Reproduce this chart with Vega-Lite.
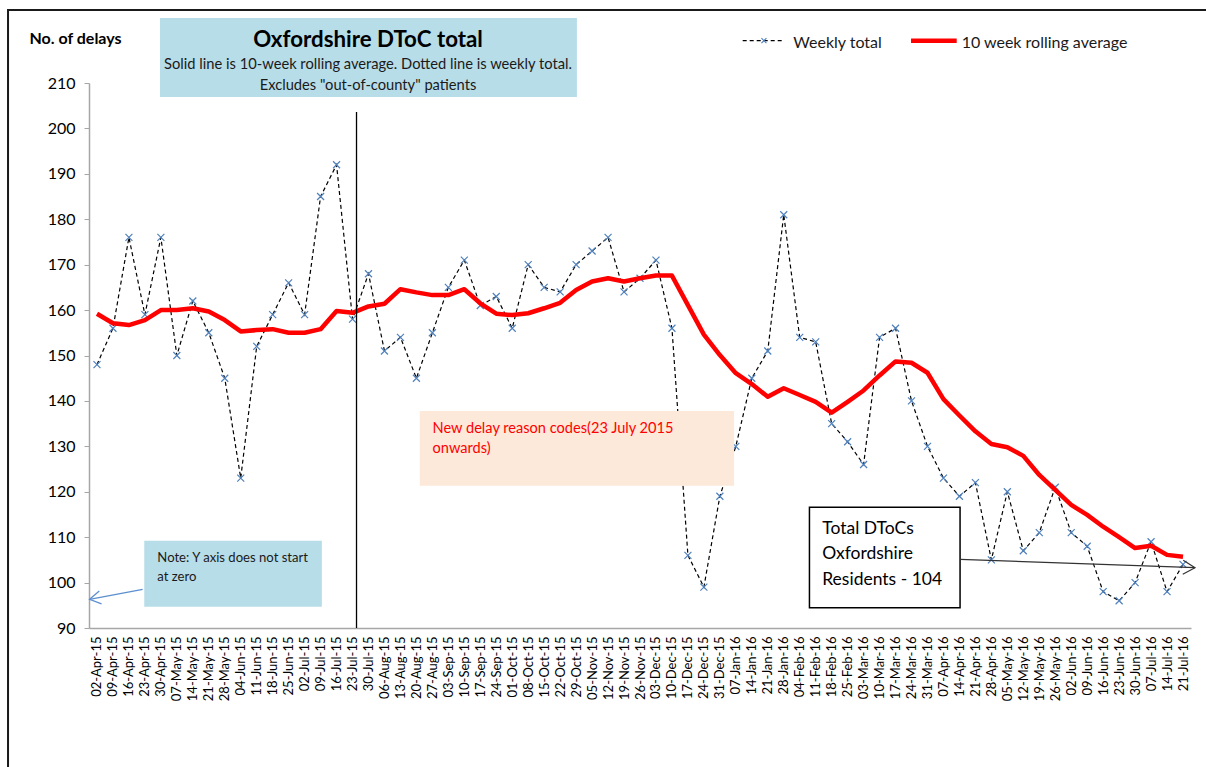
{
  "$schema": "https://vega.github.io/schema/vega-lite/v6.json",
  "width": 1102,
  "height": 545,
  "autosize": {"type": "none"},
  "padding": {"left": 89, "top": 83, "right": 15, "bottom": 139},
  "background": "white",
  "config": {"view": {"stroke": null}, "font": "Lato"},
  "layer": [
    {
      "data": {"values": [
        {"week": "02-Apr-15", "weekly_total": 148, "rolling_average": 159.2},
        {"week": "09-Apr-15", "weekly_total": 156, "rolling_average": 157.1},
        {"week": "16-Apr-15", "weekly_total": 176, "rolling_average": 156.7},
        {"week": "23-Apr-15", "weekly_total": 159, "rolling_average": 157.8},
        {"week": "30-Apr-15", "weekly_total": 176, "rolling_average": 160.0},
        {"week": "07-May-15", "weekly_total": 150, "rolling_average": 160.0},
        {"week": "14-May-15", "weekly_total": 162, "rolling_average": 160.4},
        {"week": "21-May-15", "weekly_total": 155, "rolling_average": 159.7},
        {"week": "28-May-15", "weekly_total": 145, "rolling_average": 157.8},
        {"week": "04-Jun-15", "weekly_total": 123, "rolling_average": 155.3},
        {"week": "11-Jun-15", "weekly_total": 152, "rolling_average": 155.6},
        {"week": "18-Jun-15", "weekly_total": 159, "rolling_average": 155.8},
        {"week": "25-Jun-15", "weekly_total": 166, "rolling_average": 155.0},
        {"week": "02-Jul-15", "weekly_total": 159, "rolling_average": 155.0},
        {"week": "09-Jul-15", "weekly_total": 185, "rolling_average": 155.8},
        {"week": "16-Jul-15", "weekly_total": 192, "rolling_average": 159.8},
        {"week": "23-Jul-15", "weekly_total": 158, "rolling_average": 159.4},
        {"week": "30-Jul-15", "weekly_total": 168, "rolling_average": 160.8},
        {"week": "06-Aug-15", "weekly_total": 151, "rolling_average": 161.4},
        {"week": "13-Aug-15", "weekly_total": 154, "rolling_average": 164.6},
        {"week": "20-Aug-15", "weekly_total": 145, "rolling_average": 163.9},
        {"week": "27-Aug-15", "weekly_total": 155, "rolling_average": 163.3},
        {"week": "03-Sep-15", "weekly_total": 165, "rolling_average": 163.3},
        {"week": "10-Sep-15", "weekly_total": 171, "rolling_average": 164.6},
        {"week": "17-Sep-15", "weekly_total": 161, "rolling_average": 161.5},
        {"week": "24-Sep-15", "weekly_total": 163, "rolling_average": 159.2},
        {"week": "01-Oct-15", "weekly_total": 156, "rolling_average": 158.9},
        {"week": "08-Oct-15", "weekly_total": 170, "rolling_average": 159.3},
        {"week": "15-Oct-15", "weekly_total": 165, "rolling_average": 160.4},
        {"week": "22-Oct-15", "weekly_total": 164, "rolling_average": 161.6},
        {"week": "29-Oct-15", "weekly_total": 170, "rolling_average": 164.4},
        {"week": "05-Nov-15", "weekly_total": 173, "rolling_average": 166.3},
        {"week": "12-Nov-15", "weekly_total": 176, "rolling_average": 167.0},
        {"week": "19-Nov-15", "weekly_total": 164, "rolling_average": 166.3},
        {"week": "26-Nov-15", "weekly_total": 167, "rolling_average": 167.0},
        {"week": "03-Dec-15", "weekly_total": 171, "rolling_average": 167.6},
        {"week": "10-Dec-15", "weekly_total": 156, "rolling_average": 167.6},
        {"week": "17-Dec-15", "weekly_total": 106, "rolling_average": 161.1},
        {"week": "24-Dec-15", "weekly_total": 99, "rolling_average": 154.6},
        {"week": "31-Dec-15", "weekly_total": 119, "rolling_average": 150.1},
        {"week": "07-Jan-16", "weekly_total": 130, "rolling_average": 146.1},
        {"week": "14-Jan-16", "weekly_total": 145, "rolling_average": 143.7},
        {"week": "21-Jan-16", "weekly_total": 151, "rolling_average": 140.9},
        {"week": "28-Jan-16", "weekly_total": 181, "rolling_average": 142.8},
        {"week": "04-Feb-16", "weekly_total": 154, "rolling_average": 141.3},
        {"week": "11-Feb-16", "weekly_total": 153, "rolling_average": 139.8},
        {"week": "18-Feb-16", "weekly_total": 135, "rolling_average": 137.4},
        {"week": "25-Feb-16", "weekly_total": 131, "rolling_average": 139.8},
        {"week": "03-Mar-16", "weekly_total": 126, "rolling_average": 142.3},
        {"week": "10-Mar-16", "weekly_total": 154, "rolling_average": 145.6},
        {"week": "17-Mar-16", "weekly_total": 156, "rolling_average": 148.7},
        {"week": "24-Mar-16", "weekly_total": 140, "rolling_average": 148.4},
        {"week": "31-Mar-16", "weekly_total": 130, "rolling_average": 146.2},
        {"week": "07-Apr-16", "weekly_total": 123, "rolling_average": 140.4},
        {"week": "14-Apr-16", "weekly_total": 119, "rolling_average": 136.8},
        {"week": "21-Apr-16", "weekly_total": 122, "rolling_average": 133.3},
        {"week": "28-Apr-16", "weekly_total": 105, "rolling_average": 130.5},
        {"week": "05-May-16", "weekly_total": 120, "rolling_average": 129.8},
        {"week": "12-May-16", "weekly_total": 107, "rolling_average": 127.9},
        {"week": "19-May-16", "weekly_total": 111, "rolling_average": 123.7},
        {"week": "26-May-16", "weekly_total": 121, "rolling_average": 120.4},
        {"week": "02-Jun-16", "weekly_total": 111, "rolling_average": 117.1},
        {"week": "09-Jun-16", "weekly_total": 108, "rolling_average": 114.9},
        {"week": "16-Jun-16", "weekly_total": 98, "rolling_average": 112.3},
        {"week": "23-Jun-16", "weekly_total": 96, "rolling_average": 110.0},
        {"week": "30-Jun-16", "weekly_total": 100, "rolling_average": 107.6},
        {"week": "07-Jul-16", "weekly_total": 109, "rolling_average": 108.1},
        {"week": "14-Jul-16", "weekly_total": 98, "rolling_average": 106.1},
        {"week": "21-Jul-16", "weekly_total": 104, "rolling_average": 105.7}
      ]},
      "encoding": {
        "x": {
          "field": "week", "type": "ordinal", "sort": null,
          "scale": {"type": "point", "padding": 0.5},
          "axis": {"title": null, "labelAngle": -90, "ticks": false, "grid": false, "domainColor": "#A6A6A6", "domainWidth": 1.5, "labelFont": "Lato", "labelFontSize": 13, "labelColor": "#000000", "labelPadding": 8, "labelOverlap": false}
        }
      },
      "layer": [
        {
          "mark": {"type": "line", "stroke": "#000000", "strokeWidth": 1.2, "strokeDash": [4, 3]},
          "encoding": {
            "y": {"field": "weekly_total", "type": "quantitative",
              "scale": {"domain": [90, 210], "nice": false, "zero": false},
              "axis": {"values": [90, 100, 110, 120, 130, 140, 150, 160, 170, 180, 190, 200, 210], "grid": false, "domainColor": "#A6A6A6", "domainWidth": 1.5, "tickColor": "#A6A6A6", "tickSize": 5, "labelFont": "Lato", "labelFontSize": 16, "labelColor": "#000000", "labelPadding": 9, "title": "No. of delays", "titleAngle": 0, "titleAlign": "left", "titleBaseline": "alphabetic", "titleX": -60, "titleY": -40, "titleFont": "Lato", "titleFontSize": 16, "titleFontWeight": "bold", "titleColor": "#000000"}}
          }
        },
        {
          "mark": {"type": "point", "shape": "M-1,-1L1,1M1,-1L-1,1", "filled": false, "stroke": "#4F81BD", "strokeWidth": 1.2, "size": 49, "opacity": 1},
          "encoding": {
            "y": {"field": "weekly_total", "type": "quantitative",
              "scale": {"domain": [90, 210], "nice": false, "zero": false},
              "axis": {"values": [90, 100, 110, 120, 130, 140, 150, 160, 170, 180, 190, 200, 210], "grid": false, "domainColor": "#A6A6A6", "domainWidth": 1.5, "tickColor": "#A6A6A6", "tickSize": 5, "labelFont": "Lato", "labelFontSize": 16, "labelColor": "#000000", "labelPadding": 9, "title": "No. of delays", "titleAngle": 0, "titleAlign": "left", "titleBaseline": "alphabetic", "titleX": -60, "titleY": -40, "titleFont": "Lato", "titleFontSize": 16, "titleFontWeight": "bold", "titleColor": "#000000"}}
          }
        },
        {
          "mark": {"type": "line", "stroke": "#FF0000", "strokeWidth": 4.5, "strokeJoin": "round"},
          "encoding": {
            "y": {"field": "rolling_average", "type": "quantitative",
              "scale": {"domain": [90, 210], "nice": false, "zero": false},
              "axis": {"values": [90, 100, 110, 120, 130, 140, 150, 160, 170, 180, 190, 200, 210], "grid": false, "domainColor": "#A6A6A6", "domainWidth": 1.5, "tickColor": "#A6A6A6", "tickSize": 5, "labelFont": "Lato", "labelFontSize": 16, "labelColor": "#000000", "labelPadding": 9, "title": "No. of delays", "titleAngle": 0, "titleAlign": "left", "titleBaseline": "alphabetic", "titleX": -60, "titleY": -40, "titleFont": "Lato", "titleFontSize": 16, "titleFontWeight": "bold", "titleColor": "#000000"}}
          }
        }
      ]
    },
    {
      "data": {"values": [{}]},
      "layer": [
        {
          "mark": {"type": "rect", "fill": "transparent", "stroke": "#1a1a1a", "strokeWidth": 2},
          "encoding": {
            "x": {"datum": -5.57, "type": "quantitative", "scale": {"domain": [-0.5, 68.5], "nice": false, "zero": false}, "axis": null},
            "x2": {"datum": 71},
            "y": {"datum": 226.07, "type": "quantitative", "scale": {"domain": [90, 210], "nice": false, "zero": false}, "axis": null},
            "y2": {"datum": 56.5}
          }
        },
        {
          "mark": {"type": "rect", "fill": "#B7DDE8"},
          "encoding": {
            "x": {"datum": 3.945, "type": "quantitative", "scale": {"domain": [-0.5, 68.5], "nice": false, "zero": false}, "axis": null},
            "x2": {"datum": 30.05},
            "y": {"datum": 224.31, "type": "quantitative", "scale": {"domain": [90, 210], "nice": false, "zero": false}, "axis": null},
            "y2": {"datum": 206.92}
          }
        },
        {
          "mark": {"type": "text", "text": "Oxfordshire DToC total", "font": "Lato", "fontSize": 22.3, "fontWeight": "bold", "align": "center", "baseline": "alphabetic", "color": "#000000"},
          "encoding": {
            "x": {"datum": 16.97, "type": "quantitative", "scale": {"domain": [-0.5, 68.5], "nice": false, "zero": false}, "axis": null},
            "y": {"datum": 217.99, "type": "quantitative", "scale": {"domain": [90, 210], "nice": false, "zero": false}, "axis": null}
          }
        },
        {
          "mark": {"type": "text", "text": "Solid line is 10-week rolling average.  Dotted line is weekly total.", "font": "Lato", "fontSize": 14.7, "align": "center", "baseline": "alphabetic", "color": "#1a1a1a"},
          "encoding": {
            "x": {"datum": 16.97, "type": "quantitative", "scale": {"domain": [-0.5, 68.5], "nice": false, "zero": false}, "axis": null},
            "y": {"datum": 213.15, "type": "quantitative", "scale": {"domain": [90, 210], "nice": false, "zero": false}, "axis": null}
          }
        },
        {
          "mark": {"type": "text", "text": "Excludes \"out-of-county\" patients", "font": "Lato", "fontSize": 14.7, "align": "center", "baseline": "alphabetic", "color": "#1a1a1a"},
          "encoding": {
            "x": {"datum": 16.97, "type": "quantitative", "scale": {"domain": [-0.5, 68.5], "nice": false, "zero": false}, "axis": null},
            "y": {"datum": 208.46, "type": "quantitative", "scale": {"domain": [90, 210], "nice": false, "zero": false}, "axis": null}
          }
        },
        {
          "mark": {"type": "rule", "stroke": "#000000", "strokeWidth": 1.2, "strokeDash": [4, 3]},
          "encoding": {
            "x": {"datum": 40.43, "type": "quantitative", "scale": {"domain": [-0.5, 68.5], "nice": false, "zero": false}, "axis": null},
            "x2": {"datum": 42.97},
            "y": {"datum": 219.31, "type": "quantitative", "scale": {"domain": [90, 210], "nice": false, "zero": false}, "axis": null}
          }
        },
        {
          "mark": {"type": "point", "shape": "M-1,-1L1,1M1,-1L-1,1", "filled": false, "stroke": "#4F81BD", "strokeWidth": 1.1, "size": 25, "opacity": 1},
          "encoding": {
            "x": {"datum": 41.76, "type": "quantitative", "scale": {"domain": [-0.5, 68.5], "nice": false, "zero": false}, "axis": null},
            "y": {"datum": 219.31, "type": "quantitative", "scale": {"domain": [90, 210], "nice": false, "zero": false}, "axis": null}
          }
        },
        {
          "mark": {"type": "text", "text": "Weekly total", "font": "Lato", "fontSize": 16, "align": "left", "baseline": "alphabetic", "color": "#1a1a1a"},
          "encoding": {
            "x": {"datum": 43.6, "type": "quantitative", "scale": {"domain": [-0.5, 68.5], "nice": false, "zero": false}, "axis": null},
            "y": {"datum": 217.77, "type": "quantitative", "scale": {"domain": [90, 210], "nice": false, "zero": false}, "axis": null}
          }
        },
        {
          "mark": {"type": "rule", "stroke": "#FF0000", "strokeWidth": 4.5},
          "encoding": {
            "x": {"datum": 50.97, "type": "quantitative", "scale": {"domain": [-0.5, 68.5], "nice": false, "zero": false}, "axis": null},
            "x2": {"datum": 53.83},
            "y": {"datum": 219.31, "type": "quantitative", "scale": {"domain": [90, 210], "nice": false, "zero": false}, "axis": null}
          }
        },
        {
          "mark": {"type": "text", "text": "10 week rolling average", "font": "Lato", "fontSize": 16, "align": "left", "baseline": "alphabetic", "color": "#1a1a1a"},
          "encoding": {
            "x": {"datum": 54.14, "type": "quantitative", "scale": {"domain": [-0.5, 68.5], "nice": false, "zero": false}, "axis": null},
            "y": {"datum": 217.77, "type": "quantitative", "scale": {"domain": [90, 210], "nice": false, "zero": false}, "axis": null}
          }
        },
        {
          "mark": {"type": "rule", "stroke": "#000000", "strokeWidth": 1.3},
          "encoding": {
            "x": {"datum": 16.25, "type": "quantitative", "scale": {"domain": [-0.5, 68.5], "nice": false, "zero": false}, "axis": null},
            "y": {"datum": 90, "type": "quantitative", "scale": {"domain": [90, 210], "nice": false, "zero": false}, "axis": null},
            "y2": {"datum": 203.61}
          }
        },
        {
          "mark": {"type": "rect", "fill": "#FDE9D9"},
          "encoding": {
            "x": {"datum": 20.21, "type": "quantitative", "scale": {"domain": [-0.5, 68.5], "nice": false, "zero": false}, "axis": null},
            "x2": {"datum": 39.89},
            "y": {"datum": 137.78, "type": "quantitative", "scale": {"domain": [90, 210], "nice": false, "zero": false}, "axis": null},
            "y2": {"datum": 121.33}
          }
        },
        {
          "mark": {"type": "text", "text": "New delay reason codes(23 July 2015", "font": "Lato", "fontSize": 14.6, "align": "left", "baseline": "alphabetic", "color": "#FF0000"},
          "encoding": {
            "x": {"datum": 21.01, "type": "quantitative", "scale": {"domain": [-0.5, 68.5], "nice": false, "zero": false}, "axis": null},
            "y": {"datum": 132.83, "type": "quantitative", "scale": {"domain": [90, 210], "nice": false, "zero": false}, "axis": null}
          }
        },
        {
          "mark": {"type": "text", "text": "onwards)", "font": "Lato", "fontSize": 14.6, "align": "left", "baseline": "alphabetic", "color": "#FF0000"},
          "encoding": {
            "x": {"datum": 21.01, "type": "quantitative", "scale": {"domain": [-0.5, 68.5], "nice": false, "zero": false}, "axis": null},
            "y": {"datum": 128.64, "type": "quantitative", "scale": {"domain": [90, 210], "nice": false, "zero": false}, "axis": null}
          }
        },
        {
          "mark": {"type": "rect", "fill": "#B7DDE8"},
          "encoding": {
            "x": {"datum": 2.96, "type": "quantitative", "scale": {"domain": [-0.5, 68.5], "nice": false, "zero": false}, "axis": null},
            "x2": {"datum": 14.08},
            "y": {"datum": 109.22, "type": "quantitative", "scale": {"domain": [90, 210], "nice": false, "zero": false}, "axis": null},
            "y2": {"datum": 94.68}
          }
        },
        {
          "mark": {"type": "text", "text": "Note: Y axis does not start", "font": "Lato", "fontSize": 13.1, "align": "left", "baseline": "alphabetic", "color": "#1a1a1a"},
          "encoding": {
            "x": {"datum": 3.78, "type": "quantitative", "scale": {"domain": [-0.5, 68.5], "nice": false, "zero": false}, "axis": null},
            "y": {"datum": 104.53, "type": "quantitative", "scale": {"domain": [90, 210], "nice": false, "zero": false}, "axis": null}
          }
        },
        {
          "mark": {"type": "text", "text": "at zero", "font": "Lato", "fontSize": 13.1, "align": "left", "baseline": "alphabetic", "color": "#1a1a1a"},
          "encoding": {
            "x": {"datum": 3.78, "type": "quantitative", "scale": {"domain": [-0.5, 68.5], "nice": false, "zero": false}, "axis": null},
            "y": {"datum": 100.42, "type": "quantitative", "scale": {"domain": [90, 210], "nice": false, "zero": false}, "axis": null}
          }
        },
        {
          "mark": {"type": "rule", "stroke": "#5B8FD0", "strokeWidth": 1.3},
          "encoding": {
            "x": {"datum": 2.86, "type": "quantitative", "scale": {"domain": [-0.5, 68.5], "nice": false, "zero": false}, "axis": null},
            "x2": {"datum": -0.463},
            "y": {"datum": 98.52, "type": "quantitative", "scale": {"domain": [90, 210], "nice": false, "zero": false}, "axis": null},
            "y2": {"datum": 96.32}
          }
        },
        {
          "mark": {"type": "point", "shape": "M2.2,-1.3L0,0L2.2,1.3", "filled": false, "stroke": "#5B8FD0", "strokeWidth": 1.3, "size": 100, "angle": -10, "opacity": 1},
          "encoding": {
            "x": {"datum": -0.463, "type": "quantitative", "scale": {"domain": [-0.5, 68.5], "nice": false, "zero": false}, "axis": null},
            "y": {"datum": 96.32, "type": "quantitative", "scale": {"domain": [90, 210], "nice": false, "zero": false}, "axis": null}
          }
        },
        {
          "mark": {"type": "rect", "fill": "#FFFFFF", "stroke": "#000000", "strokeWidth": 1.5},
          "encoding": {
            "x": {"datum": 44.61, "type": "quantitative", "scale": {"domain": [-0.5, 68.5], "nice": false, "zero": false}, "axis": null},
            "x2": {"datum": 54.04},
            "y": {"datum": 116.57, "type": "quantitative", "scale": {"domain": [90, 210], "nice": false, "zero": false}, "axis": null},
            "y2": {"datum": 94.46}
          }
        },
        {
          "mark": {"type": "text", "text": "Total DToCs", "font": "Lato", "fontSize": 17.5, "align": "left", "baseline": "alphabetic", "color": "#000000"},
          "encoding": {
            "x": {"datum": 45.41, "type": "quantitative", "scale": {"domain": [-0.5, 68.5], "nice": false, "zero": false}, "axis": null},
            "y": {"datum": 110.77, "type": "quantitative", "scale": {"domain": [90, 210], "nice": false, "zero": false}, "axis": null}
          }
        },
        {
          "mark": {"type": "text", "text": "Oxfordshire", "font": "Lato", "fontSize": 17.5, "align": "left", "baseline": "alphabetic", "color": "#000000"},
          "encoding": {
            "x": {"datum": 45.41, "type": "quantitative", "scale": {"domain": [-0.5, 68.5], "nice": false, "zero": false}, "axis": null},
            "y": {"datum": 105.2, "type": "quantitative", "scale": {"domain": [90, 210], "nice": false, "zero": false}, "axis": null}
          }
        },
        {
          "mark": {"type": "text", "text": "Residents - 104", "font": "Lato", "fontSize": 17.5, "align": "left", "baseline": "alphabetic", "color": "#000000"},
          "encoding": {
            "x": {"datum": 45.41, "type": "quantitative", "scale": {"domain": [-0.5, 68.5], "nice": false, "zero": false}, "axis": null},
            "y": {"datum": 99.55, "type": "quantitative", "scale": {"domain": [90, 210], "nice": false, "zero": false}, "axis": null}
          }
        },
        {
          "mark": {"type": "rule", "stroke": "#333333", "strokeWidth": 1.2},
          "encoding": {
            "x": {"datum": 54.04, "type": "quantitative", "scale": {"domain": [-0.5, 68.5], "nice": false, "zero": false}, "axis": null},
            "x2": {"datum": 68.75},
            "y": {"datum": 105.13, "type": "quantitative", "scale": {"domain": [90, 210], "nice": false, "zero": false}, "axis": null},
            "y2": {"datum": 103.28}
          }
        },
        {
          "mark": {"type": "point", "shape": "M-2.4,-1.4L0,0L-2.4,1.4", "filled": false, "stroke": "#333333", "strokeWidth": 1.2, "size": 100, "angle": 2, "opacity": 1},
          "encoding": {
            "x": {"datum": 68.75, "type": "quantitative", "scale": {"domain": [-0.5, 68.5], "nice": false, "zero": false}, "axis": null},
            "y": {"datum": 103.28, "type": "quantitative", "scale": {"domain": [90, 210], "nice": false, "zero": false}, "axis": null}
          }
        }
      ]
    }
  ],
  "resolve": {"scale": {"x": "independent", "y": "independent"}}
}
